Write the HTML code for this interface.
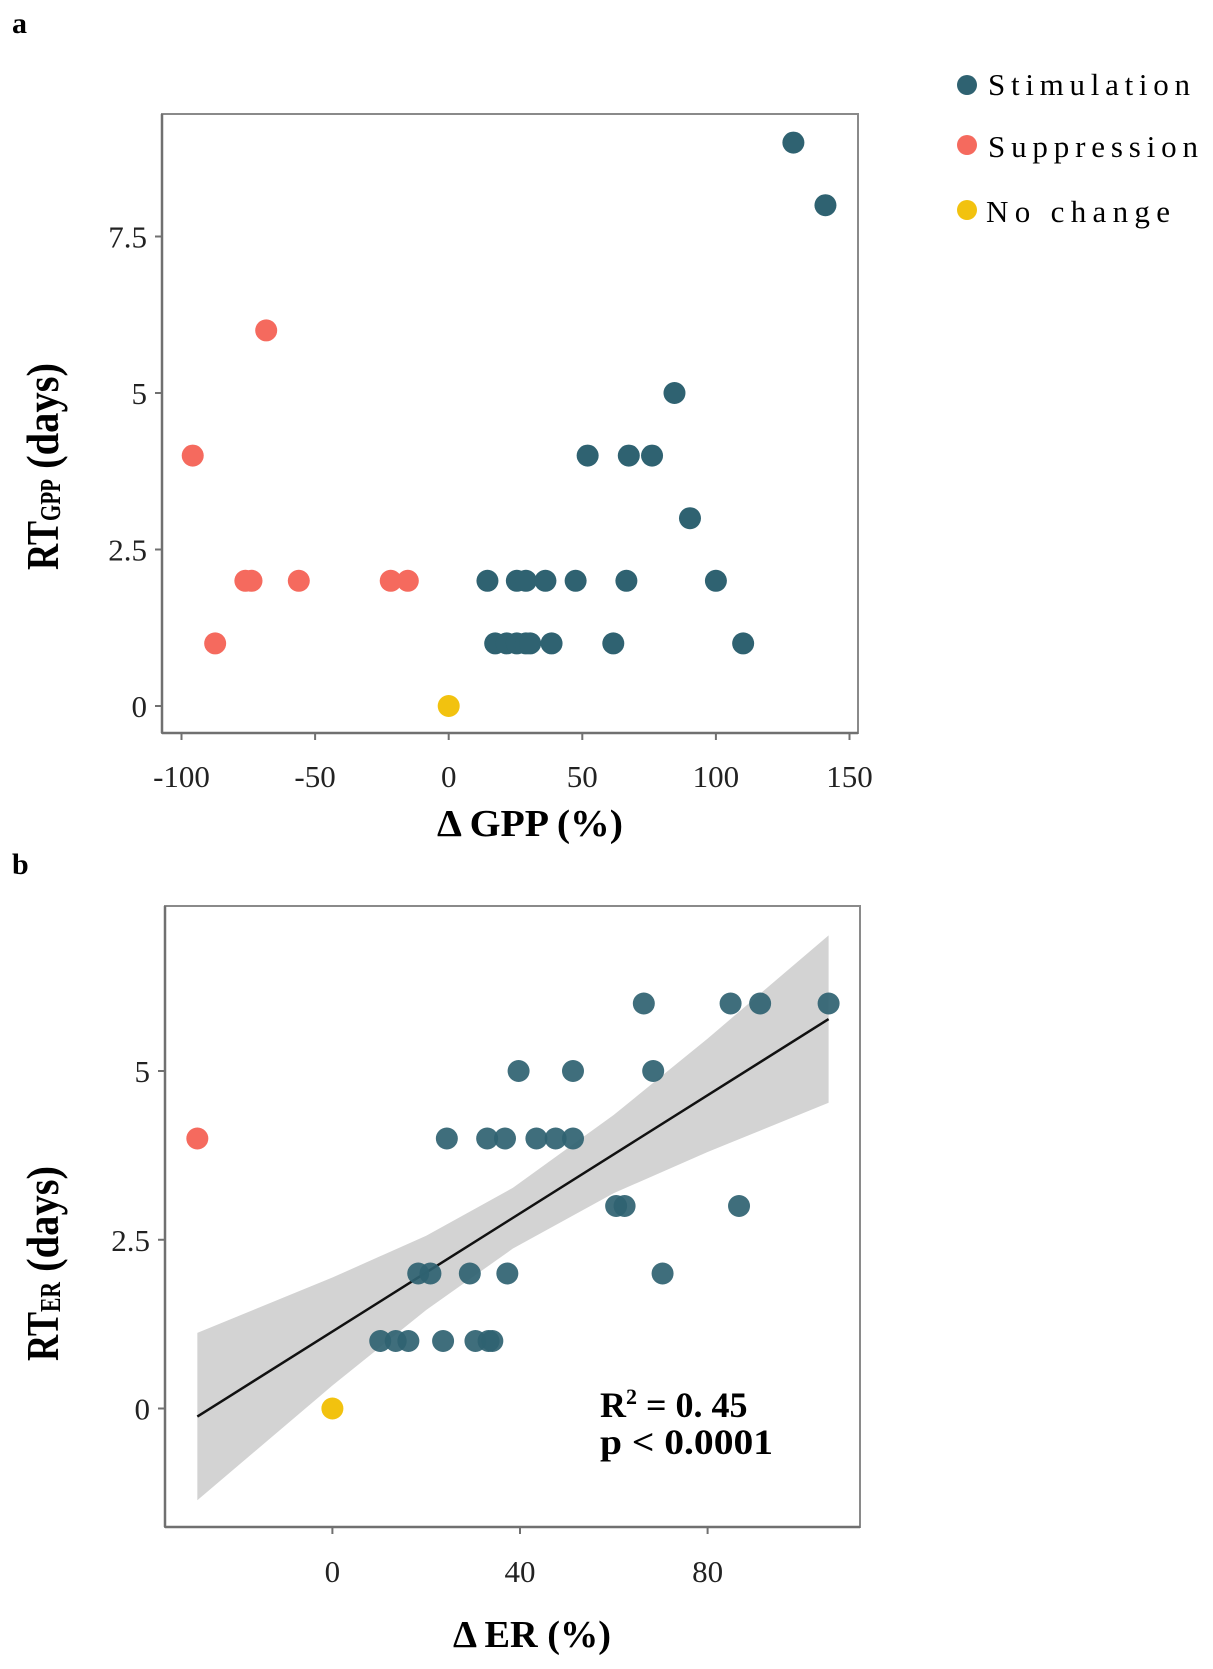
<!DOCTYPE html>
<html><head><meta charset="utf-8"><style>
html,body{margin:0;padding:0;background:#fff;}
svg{display:block;font-family:"Liberation Serif",serif;}
</style></head><body>
<svg id="fig" width="1213" height="1669" viewBox="0 0 1213 1669" xmlns="http://www.w3.org/2000/svg">
<text x="12" y="33" font-size="30" font-weight="bold">a</text>
<text x="12" y="874" font-size="30" font-weight="bold">b</text>
<g id="pa"></g>
<g id="pb"></g>
<g>
 <g><circle cx="967" cy="85" r="10" fill="#2f6271"/><text x="988" y="95" font-size="31" textLength="202" lengthAdjust="spacing">Stimulation</text></g>
 <g><circle cx="967" cy="145" r="10" fill="#f56a5e"/><text x="988" y="157" font-size="31" textLength="210" lengthAdjust="spacing">Suppression</text></g>
 <g><circle cx="967" cy="210" r="10" fill="#f2c20f"/><text x="986" y="222" font-size="31" textLength="184" lengthAdjust="spacing">No change</text></g>
</g>
</svg>
<script>
// Panel a data
const aStimX = [14.5,25.5,28.9,36.2,47.5,66.5,100, 17.4,21.7,25.5,28.9,30.5,38.5,61.6,110.2, 90.3, 52,67.4,76.1, 84.5, 141, 129];
const aStimY = [2,2,2,2,2,2,2, 1,1,1,1,1,1,1,1, 3, 4,4,4, 5, 8, 9];
const aSupX = [-95.8,-87.4,-76.1,-73.8,-68.3,-56.1,-21.7,-15.3];
const aSupY = [4,1,2,2,6,2,2,2];
const aNoX = [0];
const aNoY = [0];
const aXTicks = [-100,-50,0,50,100,150];
const aYTicks = [0,2.5,5,7.5];
const aYTickLabels = ["0","2.5","5","7.5"];
// Panel b data
const bStimX = [66.4,84.9,91.2,105.8, 39.7,51.3,68.4, 24.4,33,36.8,43.5,47.6,51.3, 60.5,62.3,86.7, 18.3,20.9,29.3,37.3,70.4, 10.2,13.5,16.2,23.6,30.5,33.3,34.1];
const bStimY = [6,6,6,6, 5,5,5, 4,4,4,4,4,4, 3,3,3, 2,2,2,2,2, 1,1,1,1,1,1,1];
const bSupX = [-28.8];
const bSupY = [4];
const bNoX = [0];
const bNoY = [0];
const bFitX = [-28.8, 105.8];
const bFitY = [-0.12, 5.77];
const bBandX = [-28.8, 0, 20, 38.5, 60, 80, 105.8];
const bBandUpper = [1.12, 1.94, 2.56, 3.27, 4.35, 5.48, 7.01];
const bBandLower = [-1.36, 0.34, 1.46, 2.37, 3.19, 3.80, 4.53];
const bXTicks = [0,40,80];
const bYTicks = [0,2.5,5];
const bYTickLabels = ["0","2.5","5"];

const NS = "http://www.w3.org/2000/svg";
function mk(parent, tag, attrs){ const e=document.createElementNS(NS,tag); for(const k in attrs) e.setAttribute(k,attrs[k]); parent.appendChild(e); return e; }

const C_STIM="#2f6271", C_SUP="#f56a5e", C_NO="#f2c20f";

// Panel a scales
const ax = v => 448.7 + v*2.672;
const ay = v => 706 - v*62.6;
const bx = v => 332.4 + v*4.69;
const by = v => 1408.5 - v*67.5;

function frame(g, L,T,R,B, name){
  const r = mk(g,'rect',{x:L,y:T,width:R-L,height:B-T,fill:'none',stroke:'#8a8a8a','stroke-width':2});
  
  
  const ya = mk(g,'line',{x1:L,y1:T,x2:L,y2:B,stroke:'#707070','stroke-width':2.5});
  
  
  const xa = mk(g,'line',{x1:L,y1:B,x2:R,y2:B,stroke:'#707070','stroke-width':2.5});
  
  
}
function points(g, xs, ys, sx, sy, col, name, op){
  for(let i=0;i<xs.length;i++){
    const c = mk(g,'circle',{cx:sx(xs[i]),cy:sy(ys[i]),r:11,fill:col,'fill-opacity':op});
    
    
  }
}
function ticks(g, xt, xl, yt, yl, sx, sy, L, B, name, xlabY){
  xt.forEach((v,i)=>{
    const t = mk(g,'line',{x1:sx(v),y1:B,x2:sx(v),y2:B+7,stroke:'#707070','stroke-width':2});
    
    
    const l = mk(g,'text',{x:sx(v),y:xlabY,'font-size':31,'text-anchor':'middle',fill:'#222'});
    l.textContent = xl[i];
    
    
  });
  yt.forEach((v,i)=>{
    const t = mk(g,'line',{x1:L-7,y1:sy(v),x2:L,y2:sy(v),stroke:'#707070','stroke-width':2});
    
    
    const l = mk(g,'text',{x:L-15,y:sy(v)+11,'font-size':31,'text-anchor':'end',fill:'#222'});
    l.textContent = yl[i];
    
    
  });
}

// Panel A
const pa = document.getElementById('pa');
frame(pa,162,114,858,733,'panel-a');
ticks(pa,aXTicks,aXTicks.map(String),aYTicks,aYTickLabels,ax,ay,162,733,'panel-a',787);
points(pa,aStimX,aStimY,ax,ay,C_STIM,'stimulation',1);
points(pa,aSupX,aSupY,ax,ay,C_SUP,'suppression',1);
points(pa,aNoX,aNoY,ax,ay,C_NO,'no-change',1);
let t = mk(pa,'text',{x:530,y:836,'font-size':38,'font-weight':'bold','text-anchor':'middle',textLength:186,lengthAdjust:'spacingAndGlyphs'});
t.textContent = 'Δ GPP (%)';


t = mk(pa,'text',{transform:'translate(58,570) rotate(-90)','font-size':46,'font-weight':'bold'});
t.innerHTML = '<tspan textLength="49" lengthAdjust="spacingAndGlyphs">RT</tspan><tspan font-size="28" dy="2" textLength="42" lengthAdjust="spacingAndGlyphs">GPP</tspan><tspan dy="-2" textLength="116" lengthAdjust="spacingAndGlyphs"> (days)</tspan>';



// Panel B
const pb = document.getElementById('pb');
frame(pb,165,906,860,1527,'panel-b');
let up = bBandX.map((v,i)=>bx(v)+','+by(bBandUpper[i]));
let lo = bBandX.map((v,i)=>bx(v)+','+by(bBandLower[i])).reverse();
const band = mk(pb,'polygon',{points:up.concat(lo).join(' '),fill:'#d3d3d3'});


const fit = mk(pb,'line',{x1:bx(bFitX[0]),y1:by(bFitY[0]),x2:bx(bFitX[1]),y2:by(bFitY[1]),stroke:'#111','stroke-width':2.5});


ticks(pb,bXTicks,bXTicks.map(String),bYTicks,bYTickLabels,bx,by,165,1527,'panel-b',1582);
points(pb,bStimX,bStimY,bx,by,C_STIM,'stimulation',0.92);
points(pb,bSupX,bSupY,bx,by,C_SUP,'suppression',1);
points(pb,bNoX,bNoY,bx,by,C_NO,'no-change',1);
t = mk(pb,'text',{x:600,y:1417,'font-size':36,'font-weight':'bold'});
t.innerHTML = 'R<tspan font-size="22" dy="-13">2</tspan><tspan dy="13"> = 0. 45</tspan>';


t = mk(pb,'text',{x:600,y:1454,'font-size':36,'font-weight':'bold',textLength:173,lengthAdjust:'spacingAndGlyphs'});
t.textContent = 'p < 0.0001';


t = mk(pb,'text',{x:532,y:1647,'font-size':38,'font-weight':'bold','text-anchor':'middle',textLength:158,lengthAdjust:'spacingAndGlyphs'});
t.textContent = 'Δ ER (%)';


t = mk(pb,'text',{transform:'translate(58,1361) rotate(-90)','font-size':46,'font-weight':'bold'});
t.innerHTML = '<tspan textLength="49" lengthAdjust="spacingAndGlyphs">RT</tspan><tspan font-size="28" dy="2" textLength="30" lengthAdjust="spacingAndGlyphs">ER</tspan><tspan dy="-2" textLength="116" lengthAdjust="spacingAndGlyphs"> (days)</tspan>';


</script>
</body></html>
